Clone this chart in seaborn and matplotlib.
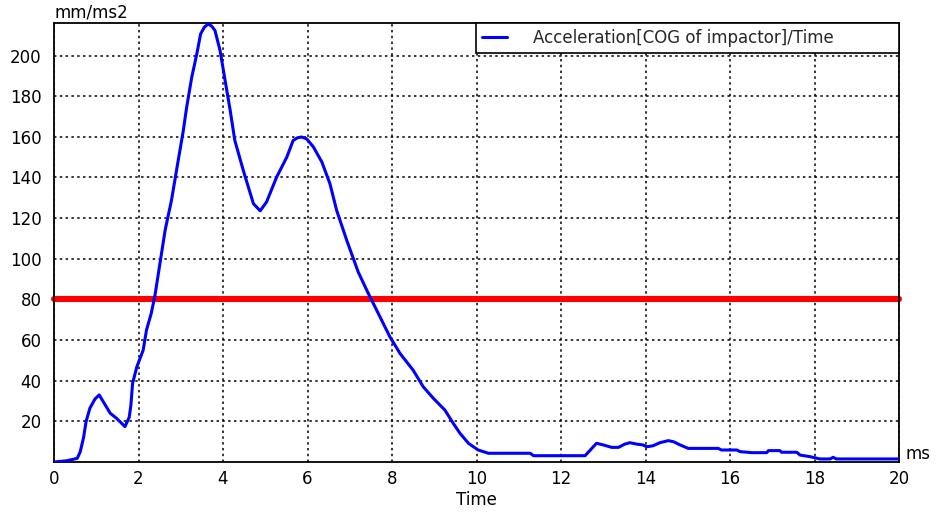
import matplotlib
matplotlib.use("Agg")
import matplotlib.pyplot as plt
import seaborn as sns
import pandas as pd

time_ms = [0, 0.3, 0.55, 0.62, 0.7, 0.76, 0.85, 0.97, 1.07, 1.2, 1.33, 1.48, 1.68,
           1.78, 1.82, 1.86, 1.96, 2.11, 2.19, 2.3, 2.39, 2.63, 2.78, 2.94, 3.06,
           3.14, 3.26, 3.38, 3.47, 3.56, 3.65, 3.73, 3.81, 3.93, 4.05, 4.17, 4.28,
           4.48, 4.72, 4.88, 5.03, 5.27, 5.51, 5.66, 5.76, 5.86, 5.98, 6.14, 6.34,
           6.53, 6.69, 6.93, 7.2, 7.44, 7.52, 7.95, 8.19, 8.5, 8.74, 8.98, 9.25,
           9.45, 9.61, 9.81, 10.04, 10.28, 11.27, 11.35, 12.57, 12.84, 13.0, 13.2,
           13.36, 13.51, 13.63, 13.79, 13.94, 14.03, 14.18, 14.34, 14.54, 14.66,
           14.82, 15.01, 15.72, 15.8, 16.16, 16.24, 16.51, 16.87, 16.91, 17.18,
           17.22, 17.58, 17.66, 17.9, 18.13, 18.37, 18.44, 18.52, 20.0]
acceleration = [0, 0.6, 1.8, 5, 12, 20, 26.5, 31, 33, 28.5, 24, 21.5, 17.4,
                22, 28, 38.7, 46.8, 55, 65, 73, 82, 114, 128.7, 148.4, 163,
                174.6, 189.3, 200.8, 210.6, 214, 215.5, 214.5, 212.3, 202.5, 187.7, 173, 158.2,
                143.5, 127.1, 123.6, 127.9, 140.2, 150, 158.2, 159.5, 159.9, 159, 155, 147.6,
                137, 123.8, 109, 93.5, 82.9, 79.6, 61.6, 53.4, 45.2, 37, 31.3, 25.6,
                19, 14.1, 9.2, 5.9, 4.3, 4.3, 3.1, 3.1, 9.2, 8.4, 7.2,
                7.2, 8.8, 9.5, 8.8, 8.4, 7.5, 8, 9.5, 10.5, 10,
                8.4, 6.7, 6.7, 5.9, 5.9, 5.1, 4.6, 4.6, 5.6, 5.6,
                4.8, 4.8, 3.4, 2.6, 1.5, 1.5, 2.3, 1.5, 1.5]
threshold = 80
x_ticks = list(range(0, 21, 2))
y_ticks = list(range(20, 201, 20))
series_label = "Acceleration[COG of impactor]/Time"

sns.set_theme(style="white")
plt.rcParams["font.family"] = ["DejaVu Sans"]

df = pd.DataFrame({"Time": time_ms, "Acceleration": acceleration})

fig = plt.figure(figsize=(9.4, 5.16), dpi=100)
ax = fig.add_axes([54 / 940, 54 / 516, 845 / 940, 439 / 516])

ax.axhline(threshold, color="#ff0000", lw=4.4, solid_capstyle="round",
           clip_on=False, zorder=2)
sns.lineplot(data=df, x="Time", y="Acceleration", ax=ax, color="#0000ff",
             lw=2.2, estimator=None, sort=False, label=series_label, zorder=3)

ax.set_xlim(0, 20)
ax.set_ylim(0, 216)
ax.set_xticks(x_ticks)
ax.set_yticks(y_ticks)
ax.tick_params(axis="both", length=0, labelsize=12, colors="#000000")
ax.tick_params(axis="y", pad=9)
ax.tick_params(axis="x", pad=6)
ax.grid(True, color="#000000", lw=1.1, linestyle=(0, (1.6, 2.2)))
for s in ax.spines.values():
    s.set_color("#000000")
    s.set_linewidth(1.3)

ax.set_xlabel("Time", fontsize=12, color="#000000", labelpad=2)
ax.set_ylabel("")
ax.text(0, 1.003, "mm/ms2", transform=ax.transAxes, ha="left", va="bottom",
        fontsize=12, color="#000000")
ax.text(1.008, 0.018, "ms", transform=ax.transAxes, ha="left", va="center",
        fontsize=12, color="#000000")

leg = ax.legend(loc="upper left", bbox_to_anchor=(0.4994, 0.927, 0.5006, 0.073),
                mode="expand", borderaxespad=0, fancybox=False, framealpha=1,
                edgecolor="#000000", fontsize=12, handlelength=1.5,
                handletextpad=1.6, borderpad=0.35)
leg.get_frame().set_linewidth(1.2)

fig.savefig("out.png", dpi=100)
